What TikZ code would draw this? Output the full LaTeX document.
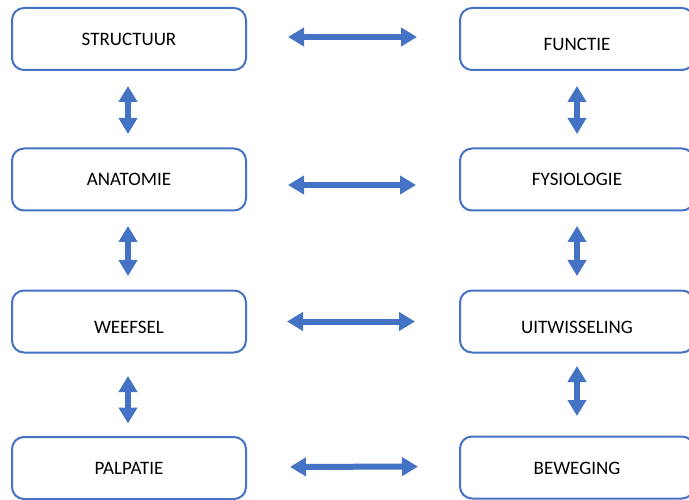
\documentclass[tikz,border=0pt]{standalone}
\usepackage{fontspec}
\setmainfont{Carlito}
\usetikzlibrary{arrows.meta}
\definecolor{boxblue}{HTML}{4472C4}

\begin{document}
\begin{tikzpicture}[x=1pt,y=-1pt,
  vak/.style={draw=boxblue,line width=2pt,rounded corners=12pt,fill=white,
    minimum width=234pt,minimum height=62pt,outer sep=0pt,
    font=\fontsize{19}{23}\selectfont,text height=13pt,text depth=0pt},
  lager/.style={text height=23pt},
  pijl/.style={draw=boxblue,line width=6pt,
    {Triangle[width=18pt,length=16pt]}-{Triangle[width=18pt,length=16pt]}}]
\useasboundingbox (0,0) rectangle (689,500);
% left column
\node[vak] (structuur) at (129,39) {STRUCTUUR};
\node[vak] (anatomie) at (129,179.5) {ANATOMIE};
\node[vak,lager] (weefsel) at (129,321.5) {WEEFSEL};
\node[vak] (palpatie) at (129,468) {PALPATIE};
% right column
\node[vak,lager] (functie) at (577,39) {FUNCTIE};
\node[vak] (fysiologie) at (577,179.5) {FYSIOLOGIE};
\node[vak,lager] (uitwisseling) at (577,321.5) {UITWISSELING};
\node[vak] (beweging) at (577,467.5) {BEWEGING};
% horizontal links
\draw[pijl,shorten <=42pt,shorten >=43pt] ([yshift=2pt]structuur.east) -- ([yshift=2pt]functie.west);
\draw[pijl,shorten <=42pt,shorten >=44pt] ([yshift=-5.5pt]anatomie.east) -- ([yshift=-5.5pt]fysiologie.west);
\draw[pijl,shorten <=41pt,shorten >=45pt] (weefsel.east) -- (uitwisseling.west);
\draw[pijl,shorten <=44pt,shorten >=42pt] ([yshift=1pt]palpatie.east) -- ([yshift=1pt]beweging.west);
% vertical links
\draw[pijl,shorten <=16pt,shorten >=14.5pt] ([xshift=-1pt]structuur.south) -- ([xshift=-1pt]anatomie.north);
\draw[pijl,shorten <=15.5pt,shorten >=14.5pt] ([xshift=-1pt]anatomie.south) -- ([xshift=-1pt]weefsel.north);
\draw[pijl,shorten <=23.5pt,shorten >=13.5pt] ([xshift=-1pt]weefsel.south) -- ([xshift=-1pt]palpatie.north);
\draw[pijl,shorten <=16pt,shorten >=14.5pt] (functie.south) -- (fysiologie.north);
\draw[pijl,shorten <=15.5pt,shorten >=14.5pt] (fysiologie.south) -- (uitwisseling.north);
\draw[pijl,shorten <=13.5pt,shorten >=20.5pt] (uitwisseling.south) -- (beweging.north);
\end{tikzpicture}
\end{document}
